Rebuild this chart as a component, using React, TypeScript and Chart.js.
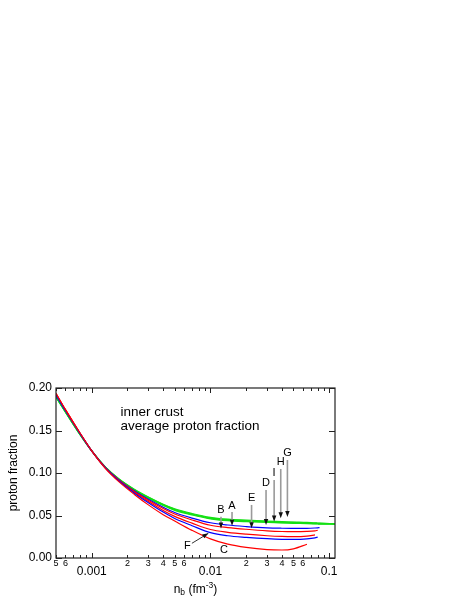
import React, { useEffect, useRef } from 'react';
import { Chart, registerables } from 'chart.js';

Chart.register(...registerables);

const FONT = '"Liberation Sans", Arial, Helvetica, sans-serif';

// baryon density grid (fm^-3)
const nbGrid = [0.0005, 0.0006, 0.0008, 0.001, 0.0013, 0.0017, 0.0023, 0.003, 0.004, 0.005, 0.007, 0.01, 0.014, 0.02, 0.03, 0.04, 0.05, 0.065, 0.076, 0.08, 0.083, 0.112];

// red / blue curves
const curveA = [0.192, 0.1735, 0.146, 0.126, 0.1066, 0.0919, 0.0787, 0.069, 0.0597, 0.0535, 0.047, 0.0415, 0.0388, 0.037, 0.0355, 0.035, 0.0348, 0.0349, 0.0353, 0.0355, 0.0357, null];
const curveB = [0.1935, 0.1745, 0.1465, 0.126, 0.1064, 0.0915, 0.078, 0.068, 0.0583, 0.0518, 0.0447, 0.0385, 0.0358, 0.0338, 0.032, 0.0312, 0.031, 0.0313, 0.032, 0.0326, null, null];
const curveE = [0.1935, 0.1745, 0.1465, 0.126, 0.1062, 0.091, 0.077, 0.0664, 0.056, 0.049, 0.041, 0.0335, 0.0302, 0.028, 0.0262, 0.0254, 0.0252, 0.0258, 0.0272, null, null, null];
const curveF = [0.192, 0.1735, 0.146, 0.126, 0.106, 0.0905, 0.076, 0.065, 0.054, 0.0465, 0.038, 0.0298, 0.0262, 0.0243, 0.0227, 0.022, 0.0219, 0.0225, 0.0237, 0.0245, null, null];
const curveC = [0.1935, 0.1745, 0.1465, 0.126, 0.1055, 0.0895, 0.0745, 0.0625, 0.051, 0.0435, 0.0325, 0.0225, 0.0163, 0.0125, 0.0099, 0.0094, 0.0108, 0.0162, null, null, null, null];

// green curves
const curveG = [0.1898, 0.1723, 0.1453, 0.1263, 0.1073, 0.093, 0.0807, 0.0718, 0.0633, 0.0579, 0.0524, 0.0479, 0.0457, 0.0445, 0.0434, 0.0428, 0.0423, 0.0418, 0.0413, 0.0412, 0.0411, 0.0403];
const curveH = [0.1896, 0.1721, 0.1451, 0.1261, 0.1071, 0.0927, 0.0803, 0.0713, 0.0628, 0.0573, 0.0518, 0.0473, 0.0451, 0.0439, 0.0429, 0.0423, 0.0419, 0.0414, 0.041, 0.0409, 0.0408, 0.0401];
const curveI = [0.1894, 0.1719, 0.1449, 0.1259, 0.1069, 0.0923, 0.0797, 0.0707, 0.0622, 0.0567, 0.0512, 0.0467, 0.0445, 0.0433, 0.0423, 0.0417, 0.0413, 0.0408, 0.0404, 0.0403, 0.0402, 0.0399];
const curveD = [0.1892, 0.1717, 0.1447, 0.1257, 0.1067, 0.092, 0.0793, 0.0702, 0.0617, 0.0561, 0.0506, 0.0461, 0.0439, 0.0427, 0.0418, 0.0412, 0.0408, 0.0404, 0.0401, 0.04, 0.0399, 0.0397];

// axis ticks
const yTicks = [0, 0.05, 0.1, 0.15, 0.2];
const xTickValues = [0.0005, 0.0006, 0.0007, 0.0008, 0.0009, 0.001, 0.002, 0.003, 0.004, 0.005, 0.006, 0.007, 0.008, 0.009, 0.01, 0.02, 0.03, 0.04, 0.05, 0.06, 0.07, 0.08, 0.09, 0.1];
const xTickLabels: (string | string[])[] = ['5', '6', '', '', '', ['', '0.001'], '2', '3', '4', '5', '6', '', '', '', ['', '0.01'], '2', '3', '4', '5', '6', '', '', '', ['', '0.1']];
const xMajor = [0.001, 0.01, 0.1];

// vertical arrow annotations (data coordinates)
const arrowNames = ['A', 'B', 'D', 'E', 'G', 'H', 'I'];
const arrowNb = [0.0152, 0.01227, 0.0294, 0.0222, 0.0445, 0.0391, 0.0344];
const arrowLabelY = [0.0615, 0.0565, 0.0886, 0.0709, 0.1235, 0.1129, 0.1004];
const arrowTailY = [0.0541, 0.0485, 0.080, 0.0624, 0.1153, 0.1047, 0.0918];
const arrowTipY = [0.038, 0.0347, 0.0388, 0.0349, 0.0482, 0.0467, 0.0429];

// F (slanted arrow) and C label
const fLabel = { nb: 0.00638, v: 0.0141 };
const fTail = { nb: 0.00698, v: 0.0173 };
const fTip = { nb: 0.0096, v: 0.029 };
const cLabel = { nb: 0.0130, v: 0.0098 };

const noteLines = ['inner crust', 'average proton fraction'];
const noteNb = 0.00175;
const noteY = [0.1718, 0.1553];

const RED = '#ff0000';
const BLUE = '#0000ff';
const GREEN = '#14e014';

const mk = (vals: (number | null)[], color: string) => ({
  data: nbGrid.map((x, i) => ({ x, y: vals[i] })).filter((p) => p.y !== null),
  borderColor: color,
  backgroundColor: color,
  borderWidth: 1.2,
  pointRadius: 0,
  fill: false,
  cubicInterpolationMode: 'monotone' as const,
});

const decorPlugin = {
  id: 'decor',
  afterDraw(chart: any) {
    const { ctx, chartArea: a, scales } = chart;
    const xs = scales.x;
    const ys = scales.y;
    ctx.save();
    // frame
    ctx.strokeStyle = '#222';
    ctx.lineWidth = 1.2;
    ctx.strokeRect(a.left, a.top, a.right - a.left, a.bottom - a.top);
    // x ticks (inside, top and bottom)
    ctx.lineWidth = 1;
    xTickValues.forEach((v) => {
      const px = Math.round(xs.getPixelForValue(v)) + 0.5;
      const len = xMajor.some((m) => Math.abs(m - v) < 1e-9) ? 5 : 3;
      ctx.beginPath();
      ctx.moveTo(px, a.bottom);
      ctx.lineTo(px, a.bottom - len);
      ctx.moveTo(px, a.top);
      ctx.lineTo(px, a.top + len);
      ctx.stroke();
    });
    // y ticks (inside, left and right)
    yTicks.forEach((v) => {
      const py = Math.round(ys.getPixelForValue(v)) + 0.5;
      ctx.beginPath();
      ctx.moveTo(a.left, py);
      ctx.lineTo(a.left + 6, py);
      ctx.moveTo(a.right, py);
      ctx.lineTo(a.right - 6, py);
      ctx.stroke();
    });

    // note text
    ctx.fillStyle = '#000';
    ctx.font = `13.5px ${FONT}`;
    ctx.textAlign = 'left';
    ctx.textBaseline = 'middle';
    noteLines.forEach((t, i) => {
      ctx.fillText(t, xs.getPixelForValue(noteNb), ys.getPixelForValue(noteY[i]));
    });

    // vertical arrows
    ctx.font = `11px ${FONT}`;
    ctx.textAlign = 'center';
    arrowNames.forEach((n, i) => {
      const px = xs.getPixelForValue(arrowNb[i]);
      const pl = ys.getPixelForValue(arrowLabelY[i]);
      const pt = ys.getPixelForValue(arrowTailY[i]);
      const pk = ys.getPixelForValue(arrowTipY[i]);
      ctx.fillStyle = '#000';
      ctx.fillText(n, px, pl);
      ctx.strokeStyle = '#9a9a9a';
      ctx.lineWidth = 1.6;
      ctx.beginPath();
      ctx.moveTo(px, pt);
      ctx.lineTo(px, pk - 5);
      ctx.stroke();
      ctx.fillStyle = '#111';
      ctx.beginPath();
      ctx.moveTo(px, pk);
      ctx.lineTo(px - 2.2, pk - 6);
      ctx.lineTo(px + 2.2, pk - 6);
      ctx.closePath();
      ctx.fill();
    });

    // F arrow
    const fx0 = xs.getPixelForValue(fTail.nb);
    const fy0 = ys.getPixelForValue(fTail.v);
    const fx1 = xs.getPixelForValue(fTip.nb);
    const fy1 = ys.getPixelForValue(fTip.v);
    ctx.strokeStyle = '#333';
    ctx.lineWidth = 1;
    ctx.beginPath();
    ctx.moveTo(fx0, fy0);
    ctx.lineTo(fx1, fy1);
    ctx.stroke();
    const ang = Math.atan2(fy1 - fy0, fx1 - fx0);
    ctx.fillStyle = '#111';
    ctx.beginPath();
    ctx.moveTo(fx1, fy1);
    ctx.lineTo(fx1 - 6 * Math.cos(ang) + 2.2 * Math.sin(ang), fy1 - 6 * Math.sin(ang) - 2.2 * Math.cos(ang));
    ctx.lineTo(fx1 - 6 * Math.cos(ang) - 2.2 * Math.sin(ang), fy1 - 6 * Math.sin(ang) + 2.2 * Math.cos(ang));
    ctx.closePath();
    ctx.fill();
    ctx.fillStyle = '#000';
    ctx.fillText('F', xs.getPixelForValue(fLabel.nb), ys.getPixelForValue(fLabel.v));
    ctx.fillText('C', xs.getPixelForValue(cLabel.nb), ys.getPixelForValue(cLabel.v));

    // x-axis title: n_b (fm^-3)
    const parts = [
      { t: 'n', s: 12, dy: 0 },
      { t: 'b', s: 8.5, dy: 3 },
      { t: ' (fm', s: 12, dy: 0 },
      { t: '-3', s: 8.5, dy: -4.5 },
      { t: ')', s: 12, dy: 0 },
    ];
    let total = 0;
    parts.forEach((p) => {
      ctx.font = `${p.s}px ${FONT}`;
      total += ctx.measureText(p.t).width;
    });
    let cx = (a.left + a.right) / 2 - total / 2;
    const cy = a.bottom + 32;
    ctx.textAlign = 'left';
    parts.forEach((p) => {
      ctx.font = `${p.s}px ${FONT}`;
      ctx.fillText(p.t, cx, cy + p.dy);
      cx += ctx.measureText(p.t).width;
    });
    ctx.restore();
  },
};

export default function App() {
  const ref = useRef<HTMLCanvasElement>(null);
  useEffect(() => {
    if (!ref.current) return;
    const chart = new Chart(ref.current, {
      type: 'line',
      data: {
        datasets: [
          mk(curveC, RED),
          mk(curveF, BLUE),
          mk(curveE, RED),
          mk(curveB, RED),
          mk(curveA, BLUE),
          mk(curveD, GREEN),
          mk(curveI, GREEN),
          mk(curveH, GREEN),
          mk(curveG, GREEN),
        ] as any,
      },
      options: {
        animation: false,
        responsive: false,
        maintainAspectRatio: false,
        layout: { padding: { top: 388, right: 128, left: 0, bottom: 0 } },
        plugins: { legend: { display: false }, tooltip: { enabled: false } },
        scales: {
          x: {
            type: 'logarithmic',
            min: 0.0005,
            max: 0.112,
            bounds: 'data',
            grid: { display: false, drawTicks: false },
            border: { display: false },
            afterBuildTicks: (s: any) => {
              s.ticks = xTickValues.map((v) => ({ value: v }));
            },
            afterFit: (s: any) => {
              s.height = 41;
            },
            ticks: {
              autoSkip: false,
              maxRotation: 0,
              minRotation: 0,
              padding: 0,
              color: '#000',
              callback: (_v: any, i: number) => xTickLabels[i],
              font: (c: any) =>
                Array.isArray(xTickLabels[c.index])
                  ? { family: FONT, size: 12, lineHeight: 0.78 }
                  : { family: FONT, size: 9, lineHeight: 1.2 },
            },
            title: { display: false },
          },
          y: {
            type: 'linear',
            min: 0,
            max: 0.2,
            grid: { display: false, drawTicks: false },
            border: { display: false },
            afterBuildTicks: (s: any) => {
              s.ticks = yTicks.map((v) => ({ value: v }));
            },
            afterFit: (s: any) => {
              s.width = 56;
            },
            ticks: {
              padding: 4,
              color: '#000',
              font: { family: FONT, size: 12 },
              callback: (v: any) => Number(v).toFixed(2),
            },
            title: {
              display: true,
              text: 'proton fraction',
              color: '#000',
              font: { family: FONT, size: 12 },
              padding: { top: 6, bottom: 0 },
            },
          },
        },
      } as any,
      plugins: [decorPlugin],
    });
    return () => chart.destroy();
  }, []);
  return (
    <div style={{ position: 'absolute', left: 0, top: 0, width: 463, height: 599, background: '#fff' }}>
      <canvas ref={ref} width={463} height={599} style={{ width: 463, height: 599, display: 'block' }} />
    </div>
  );
}
